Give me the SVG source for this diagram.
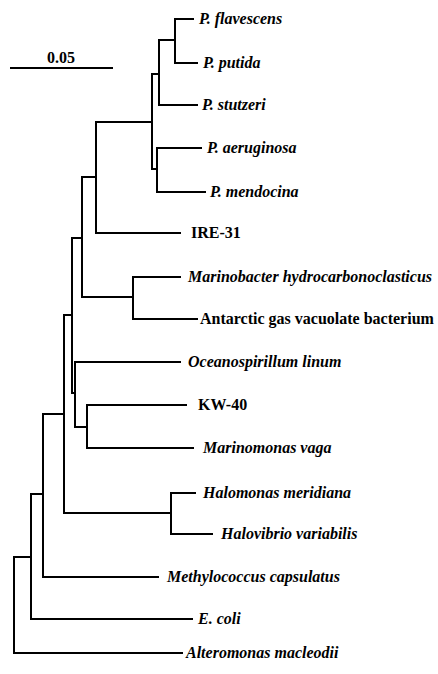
<svg xmlns="http://www.w3.org/2000/svg" width="438" height="674" viewBox="0 0 438 674">
<style>
text{font-family:"Liberation Serif","Times New Roman",serif;font-size:16px;font-weight:bold;fill:#000}
.i{font-style:italic}
.br{fill:none;stroke:#000;stroke-width:2;stroke-linecap:square;stroke-linejoin:miter}
</style>
<rect width="438" height="674" fill="#fff"/>
<g id="scale">
<line class="br" x1="11" y1="68" x2="112" y2="68"/>
<text x="61" y="63" text-anchor="middle">0.05</text>
</g>
<g id="connectors">
<path class="br" d="M193,19H175V63H197M175,40H159"/>
<path class="br" d="M159,40V105H197M159,74H152"/>
<path class="br" d="M201,148H157V192H205M157,169H152"/>
<path class="br" d="M152,74V169M152,122H96"/>
<path class="br" d="M96,122V233H180M96,177H82"/>
<path class="br" d="M180,277H133V319H197M133,297H82"/>
<path class="br" d="M82,177V297M82,238H72"/>
<path class="br" d="M180,362H75V427M186,405H87V448H193M87,427H75M75,393H72"/>
<path class="br" d="M72,238V393M72,315H64"/>
<path class="br" d="M195,493H171V534H212M171,513H64"/>
<path class="br" d="M64,315V513M64,414H43"/>
<path class="br" d="M43,414V577H158M43,494H31"/>
<path class="br" d="M31,494V619H192M31,557H14"/>
<path class="br" d="M14,557V653H182"/>
</g>
<g id="n-flavescens"><text class="i" x="199" y="24">P. flavescens</text></g>
<g id="n-putida"><text class="i" x="203" y="68">P. putida</text></g>
<g id="n-stutzeri"><text class="i" x="202" y="110">P. stutzeri</text></g>
<g id="n-aeruginosa"><text class="i" x="207" y="153">P. aeruginosa</text></g>
<g id="n-mendocina"><text class="i" x="210" y="197">P. mendocina</text></g>
<g id="n-ire31"><text x="191" y="238">IRE-31</text></g>
<g id="n-marinobacter"><text class="i" x="188" y="282">Marinobacter hydrocarbonoclasticus</text></g>
<g id="n-antarctic"><text x="200" y="324">Antarctic gas vacuolate bacterium</text></g>
<g id="n-oceanospirillum"><text class="i" x="188" y="367">Oceanospirillum linum</text></g>
<g id="n-kw40"><text x="198" y="410">KW-40</text></g>
<g id="n-marinomonas"><text class="i" x="203" y="453">Marinomonas vaga</text></g>
<g id="n-halomonas"><text class="i" x="203" y="498">Halomonas meridiana</text></g>
<g id="n-halovibrio"><text class="i" x="221" y="539">Halovibrio variabilis</text></g>
<g id="n-methylococcus"><text class="i" x="167" y="582">Methylococcus capsulatus</text></g>
<g id="n-ecoli"><text class="i" x="198" y="624">E. coli</text></g>
<g id="n-alteromonas"><text class="i" x="186" y="658">Alteromonas macleodii</text></g>
</svg>
